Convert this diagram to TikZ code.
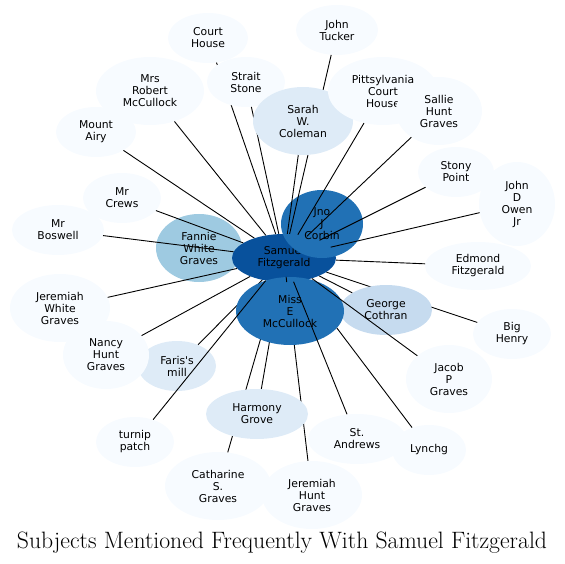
\documentclass[tikz,border=0pt]{standalone}
\usepackage{fontspec}
\usetikzlibrary{shapes.geometric}
\newfontfamily\labelfont{DejaVu Sans}
\definecolor{BluePale}{HTML}{F7FBFF}
\definecolor{BlueLight}{HTML}{DEEBF7}
\definecolor{BlueSoft}{HTML}{C6DBEF}
\definecolor{BlueSky}{HTML}{9ECAE1}
\definecolor{BlueMid}{HTML}{2171B5}
\definecolor{BlueDeep}{HTML}{08519C}

\begin{document}
\begin{tikzpicture}[x=1pt,y=-1pt]
\tikzset{b/.style 2 args={ellipse,inner sep=0pt,align=center,minimum width=#1pt,minimum height=#2pt,font=\labelfont\fontsize{10.8}{12}\selectfont},
p0/.style={fill=BluePale},p1/.style={fill=BlueLight},p2/.style={fill=BlueSoft},p3/.style={fill=BlueSky},p4/.style={fill=BlueMid},p5/.style={fill=BlueDeep},
a/.style={black,line width=0.9pt}}
\useasboundingbox (0,0) rectangle (565,564);
% hub and the nodes lying under it
\node[b={86}{68},p3] (fannie) at (199,248) {Fannie\\White\\Graves};
\node[b={104}{48},p5] (sam) at (284,258) {Samuel\\Fitzgerald};
\node[b={82}{68},p4] (corbin) at (322,224) {Jno\\J\\Corbin};
% upper half
\node[b={80}{50},p0] (court) at (208,38) {Court\\House};\draw[a](sam)--(court);
\node[b={78}{50},p0] (strait) at (246,82) {Strait\\Stone};\draw[a](sam)--(strait);
\node[b={82}{50},p0] (tucker) at (337,30) {John\\Tucker};\draw[a](sam)--(tucker);
\node[b={100}{68},p1] (sarah) at (303,121) {Sarah\\W.\\Coleman};\draw[a](sam)--(sarah);
\node[b={108}{68},p0] (mrsmc) at (150,91) {Mrs\\Robert\\McCullock};\draw[a](sam)--(mrsmc);
\node[b={80}{50},p0] (airy) at (96,132) {Mount\\Airy};\draw[a](sam)--(airy);
\node[b={78}{50},p0] (crews) at (122,198) {Mr\\Crews};\draw[a](sam)--(crews);
\node[b={92}{50},p0] (boswell) at (58,230) {Mr\\Boswell};\draw[a](sam)--(boswell);
\node[b={100}{68},p0] (jwg) at (60,308) {Jeremiah\\White\\Graves};\draw[a](sam)--(jwg);
\node[b={110}{68},p0] (pitt) at (383,91) {Pittsylvania\\Court\\House};\draw[a](sam)--(pitt);
\node[b={86}{68},p0] (sallie) at (439,111) {Sallie\\Hunt\\Graves};\draw[a](sam)--(sallie);
\node[b={76}{50},p0] (stony) at (456,172) {Stony\\Point};\draw[a](sam)--(stony);
\node[b={76}{84},p0] (owen) at (517,204) {John\\D\\Owen\\Jr};\draw[a](sam)--(owen);
\node[b={106}{48},p0] (edmond) at (478,266) {Edmond\\Fitzgerald};\draw[a](sam)--(edmond);
% lower half
\node[b={78}{50},p0] (henry) at (512,334) {Big\\Henry};\draw[a](sam)--(henry);
\node[b={92}{50},p2] (george) at (386,310) {George\\Cothran};\draw[a](sam)--(george);
\node[b={100}{68},p0] (jhg) at (312,495) {Jeremiah\\Hunt\\Graves};\draw[a](sam)--(jhg);
\node[b={106}{68},p0] (cath) at (218,486) {Catharine\\S.\\Graves};\draw[a](sam)--(cath);
\node[b={102}{50},p1] (harmony) at (257,414) {Harmony\\Grove};\draw[a](sam)--(harmony);
\node[b={74}{50},p0] (lynchg) at (429,450) {Lynchg};\draw[a](sam)--(lynchg);
\node[b={78}{50},p1] (faris) at (177,366) {Faris's\\mill};\draw[a](sam)--(faris);
\node[b={86}{68},p0] (nancy) at (106,355) {Nancy\\Hunt\\Graves};\draw[a](sam)--(nancy);
\node[b={108}{68},p4] (missmc) at (290,311) {Miss\\E\\McCullock};\draw[a](sam)--(missmc);
\node[b={78}{50},p0] (turnip) at (135,442) {turnip\\patch};\draw[a](sam)--(turnip);
\node[b={98}{50},p0] (andrews) at (357,439) {St.\\Andrews};\draw[a](sam)--(andrews);
\node[b={86}{68},p0] (jacob) at (449,379) {Jacob\\P\\Graves};\draw[a](sam)--(jacob);
% title
\node[anchor=base,font=\fontsize{23.7}{28}\selectfont] (title) at (282,548) {Subjects Mentioned Frequently With Samuel Fitzgerald};
\end{tikzpicture}
\end{document}
